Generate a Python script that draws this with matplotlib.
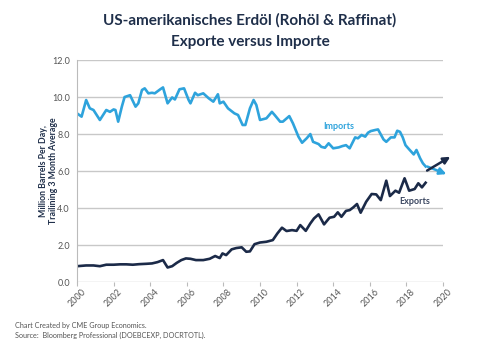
import matplotlib.pyplot as plt
import matplotlib.transforms as mtrans

# donnees (annee decimale, millions de barils/jour)
imports_t = [2000.0, 2000.25, 2000.5, 2000.7, 2000.9, 2001.25, 2001.6, 2001.8, 2002.0, 2002.1,
             2002.25, 2002.45, 2002.6, 2002.9, 2003.2, 2003.35, 2003.55, 2003.7, 2003.9, 2004.1,
             2004.25, 2004.55, 2004.7, 2004.95, 2005.2, 2005.35, 2005.6, 2005.85, 2006.1, 2006.2,
             2006.45, 2006.6, 2006.9, 2007.2, 2007.45, 2007.7, 2007.8, 2008.0, 2008.25, 2008.6,
             2008.8, 2009.05, 2009.2, 2009.45, 2009.65, 2009.8, 2010.0, 2010.35, 2010.65, 2010.8,
             2011.1, 2011.25, 2011.6, 2011.8, 2012.1, 2012.3, 2012.55, 2012.75, 2012.9, 2013.2,
             2013.35, 2013.55, 2013.75, 2014.0, 2014.3, 2014.5, 2014.7, 2014.9, 2015.2, 2015.35,
             2015.55, 2015.75, 2015.9, 2016.05, 2016.3, 2016.45, 2016.75, 2016.9, 2017.15, 2017.35,
             2017.5, 2017.65, 2017.8, 2017.95, 2018.1, 2018.4, 2018.55, 2018.75, 2018.9, 2019.05]
imports_v = [9.12, 8.94, 9.84, 9.39, 9.30, 8.76, 9.30, 9.20, 9.33, 9.30,
             8.67, 9.48, 10.0, 10.1, 9.48, 9.66, 10.38, 10.47, 10.20, 10.23,
             10.20, 10.42, 10.52, 9.66, 9.98, 9.87, 10.42, 10.47, 9.84, 9.66,
             10.23, 10.10, 10.20, 9.93, 9.75, 10.15, 9.66, 9.75, 9.39, 9.12,
             9.03, 8.49, 8.49, 9.39, 9.84, 9.57, 8.76, 8.85, 9.20, 9.03,
             8.67, 8.67, 8.97, 8.58, 7.86, 7.53, 7.77, 8.00, 7.58, 7.46,
             7.31, 7.26, 7.50, 7.23, 7.28, 7.35, 7.40, 7.23, 7.82, 7.77,
             7.95, 7.86, 8.07, 8.16, 8.22, 8.25, 7.71, 7.58, 7.82, 7.82,
             8.18, 8.12, 7.82, 7.40, 7.23, 6.90, 7.14, 6.69, 6.42, 6.25]

exports_t = [2000.0, 2000.5, 2000.9, 2001.25, 2001.6, 2002.0, 2002.35, 2002.7, 2003.05, 2003.4,
             2003.8, 2004.1, 2004.4, 2004.7, 2004.95, 2005.2, 2005.45, 2005.7, 2005.95, 2006.2,
             2006.5, 2006.9, 2007.25, 2007.55, 2007.8, 2007.95, 2008.15, 2008.45, 2008.7, 2009.0,
             2009.25, 2009.45, 2009.7, 2010.0, 2010.35, 2010.7, 2010.95, 2011.2, 2011.45, 2011.75,
             2012.0, 2012.2, 2012.5, 2012.75, 2012.95, 2013.2, 2013.5, 2013.8, 2014.05, 2014.25,
             2014.45, 2014.7, 2014.9, 2015.1, 2015.3, 2015.5, 2015.8, 2016.1, 2016.35, 2016.6,
             2016.9, 2017.1, 2017.4, 2017.6, 2017.9, 2018.15, 2018.45, 2018.65, 2018.85, 2019.05]
exports_v = [0.86, 0.90, 0.90, 0.86, 0.94, 0.94, 0.96, 0.96, 0.94, 0.97,
             0.99, 1.01, 1.08, 1.19, 0.79, 0.86, 1.04, 1.19, 1.28, 1.26,
             1.19, 1.19, 1.26, 1.41, 1.30, 1.55, 1.46, 1.77, 1.84, 1.88,
             1.64, 1.66, 2.05, 2.14, 2.18, 2.27, 2.63, 2.94, 2.76, 2.81,
             2.77, 3.08, 2.77, 3.17, 3.44, 3.66, 3.12, 3.48, 3.53, 3.77,
             3.53, 3.85, 3.89, 4.04, 4.22, 3.75, 4.34, 4.76, 4.74, 4.43,
             5.48, 4.65, 4.94, 4.83, 5.61, 4.94, 5.03, 5.34, 5.12, 5.37]

x_ticks = list(range(2000, 2021, 2))
y_ticks = [0, 2, 4, 6, 8, 10, 12]

col_imp = '#2ea3dc'
col_exp = '#1b2a48'
col_txt = '#1f2f4a'

plt.rcParams['font.family'] = ['Lato', 'DejaVu Sans']

fig = plt.figure(figsize=(5, 3.47), dpi=100)
ax = fig.add_axes([0.154, 0.187, 0.732, 0.640])

ax.plot(imports_t, imports_v, color=col_imp, lw=1.9, solid_joinstyle='round')
ax.plot(exports_t, exports_v, color=col_exp, lw=1.9, solid_joinstyle='round')

# fleches de tendance
ax.annotate('', xy=(2020.33, 5.78), xytext=(imports_t[-1] - 0.05, imports_v[-1] + 0.05),
            arrowprops=dict(arrowstyle='-|>', color=col_imp, lw=1.8, mutation_scale=10),
            annotation_clip=False)
ax.annotate('', xy=(2020.53, 6.85), xytext=(exports_t[-1] - 0.05, 5.95),
            arrowprops=dict(arrowstyle='-|>', color=col_exp, lw=1.8, mutation_scale=10),
            annotation_clip=False)

ax.text(2014.3, 8.4, 'Imports', color=col_imp, fontsize=6.5, fontweight='bold', ha='center', va='center')
ax.text(2018.45, 4.35, 'Exports', color='#3a4660', fontsize=6.5, fontweight='bold', ha='center', va='center')

ax.set_xlim(2000, 2020)
ax.set_ylim(0, 12)
ax.set_xticks(x_ticks)
ax.set_xticklabels([str(t) for t in x_ticks], rotation=45, ha='center',
                   fontsize=6.5, color='#555555')
shift = mtrans.ScaledTranslation(4 / 100, 0, fig.dpi_scale_trans)
for lab in ax.get_xticklabels():
    lab.set_transform(lab.get_transform() + shift)
ax.set_yticks(y_ticks)
ax.set_yticklabels(['%.1f' % v for v in y_ticks], fontsize=6.5, color='#555555')
ax.tick_params(axis='y', length=0, pad=5)
ax.tick_params(axis='x', length=3, color='#bbbbbb', pad=1)
ax.grid(axis='y', color='#c8c8c8', lw=1)
for s in ['top', 'right', 'bottom']:
    ax.spines[s].set_visible(False)
ax.spines['left'].set_color('#bbbbbb')

ax.set_ylabel('Million Barrels Per Day,\nTrailining 3 Month Average', fontsize=6.3,
              fontweight='bold', color=col_txt, linespacing=1.2)
ax.yaxis.set_label_coords(-0.052, 0.5)

fig.text(0.5, 0.94, 'US-amerikanisches Erdöl (Rohöl & Raffinat)', ha='center', va='center',
         fontsize=11, fontweight='bold', color=col_txt)
fig.text(0.5, 0.878, 'Exporte versus Importe', ha='center', va='center',
         fontsize=11, fontweight='bold', color=col_txt)

fig.text(0.03, 0.063, 'Chart Created by CME Group Economics.', fontsize=5.2, color='#555555', va='center')
fig.text(0.03, 0.032, 'Source:  Bloomberg Professional (DOEBCEXP, DOCRTOTL).', fontsize=5.2,
         color='#555555', va='center')

plt.savefig('out.png', dpi=100)
plt.close()
